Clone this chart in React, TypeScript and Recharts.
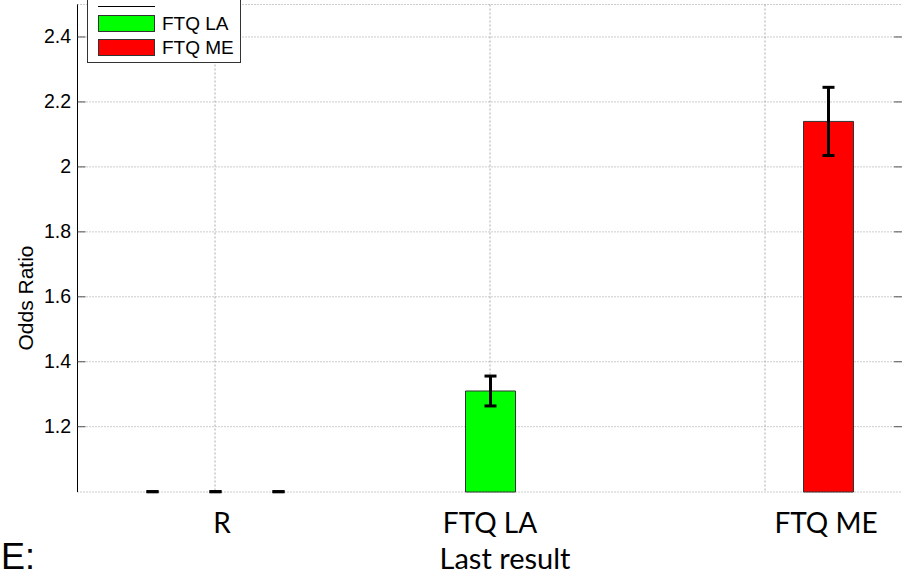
import { Bar, BarChart, CartesianGrid, Cell, ErrorBar, XAxis, YAxis } from "recharts";

const categories = ["R", "FTQ LA", "FTQ ME"];
const rValues = [1, null, null];
const rErrors = [[0, 0], null, null];
const laValues = [1, 1.31, null];
const laErrors = [[0, 0], [0.046, 0.046], null];
const meValues = [1, null, 2.14];
const meErrors = [[0, 0], null, [0.105, 0.105]];
const yTicks = [1.2, 1.4, 1.6, 1.8, 2, 2.2, 2.4];
const baseline = 1;

const series = [
  { key: "r", name: "R", color: "#ffffff", values: rValues },
  { key: "la", name: "FTQ LA", color: "#00ff00", values: laValues },
  { key: "me", name: "FTQ ME", color: "#ff0000", values: meValues },
];

const data = categories.map((name, i) => ({
  name,
  r: rValues[i],
  rErr: rErrors[i],
  la: laValues[i],
  laErr: laErrors[i],
  me: meValues[i],
  meErr: meErrors[i],
}));

// the x labels in the original are nudged off their group centres
const labelShift = [7, 0, 61];

const arial = "'Liberation Sans', Arial, sans-serif";

function YTick({ y, payload }: any) {
  return (
    <g>
      <line x1={77.5} x2={85.5} y1={y} y2={y} stroke="#555" />
      <line x1={894} x2={902} y1={y} y2={y} stroke="#555" />
      <text x={71} y={y} dy={6.5} textAnchor="end" fontSize={19.5} fontFamily={arial} fill="#000">
        {payload.value}
      </text>
    </g>
  );
}

function XTick({ x, payload, index }: any) {
  return (
    <text x={x + labelShift[index]} y={533} textAnchor="middle" fontSize={28} fontFamily="Lato, sans-serif" fill="#000">
      {payload.value}
    </text>
  );
}

// top entry is cut off by the top edge, only the bottom of its icon shows
function LegendBox() {
  return (
    <div
      style={{
        position: "absolute",
        left: 87,
        top: -18,
        width: 152,
        height: 79,
        border: "1px solid #333",
        background: "#fff",
      }}
    >
      {series.map((s, i) => (
        <div
          key={s.key}
          style={{ position: "absolute", left: 10, top: 7 + i * 24.5, height: 17, display: "flex", alignItems: "center" }}
        >
          {i === 0 ? (
            <div style={{ width: 57, height: 16, borderBottom: "1px solid #000" }} />
          ) : (
            <>
              <div style={{ width: 55, height: 15, background: s.color, border: "1px solid #333" }} />
              <span style={{ marginLeft: 7, fontSize: 19, fontFamily: arial, color: "#000", lineHeight: "17px" }}>
                {s.name}
              </span>
            </>
          )}
        </div>
      ))}
    </div>
  );
}

export default function App() {
  return (
    <div style={{ position: "absolute", left: 0, top: 0, width: 902, height: 575, overflow: "hidden", background: "#fff" }}>
      <BarChart
        width={903}
        height={575}
        data={data}
        margin={{ top: 4.5, right: 0.5, left: 0, bottom: 0 }}
        barSize={50}
        barGap={13}
      >
        <CartesianGrid horizontal={false} stroke="#aaa" strokeDasharray="2 2" />
        <CartesianGrid vertical={false} stroke="#999" strokeDasharray="1 2" />
        <XAxis
          dataKey="name"
          axisLine={false}
          tickLine={false}
          height={83}
          interval={0}
          tick={<XTick />}
          label={{
            content: () => (
              <text x={505} y={569} textAnchor="middle" fontSize={29} fontFamily="Lato, sans-serif" fill="#000">
                Last result
              </text>
            ),
          }}
        />
        <YAxis
          width={77.5}
          domain={[0.999, 2.5]}
          ticks={yTicks}
          axisLine={{ stroke: "#000" }}
          tickLine={false}
          tick={<YTick />}
          label={{
            content: () => (
              <text
                x={33}
                y={298}
                transform="rotate(-90 33 298)"
                textAnchor="middle"
                fontSize={21}
                fontFamily={arial}
                fill="#000"
              >
                Odds Ratio
              </text>
            ),
          }}
        />
        {series.map((s) => (
          <Bar key={s.key} dataKey={s.key} name={s.name} fill={s.color} stroke="#333" isAnimationActive={false}>
            {s.values.map((v, i) => (
              <Cell
                key={i}
                fill={v != null && v > baseline ? s.color : "none"}
                stroke={v != null && v > baseline ? "#333" : "none"}
              />
            ))}
            <ErrorBar dataKey={`${s.key}Err`} width={6} strokeWidth={3} stroke="#000" isAnimationActive={false} />
          </Bar>
        ))}
      </BarChart>
      <LegendBox />
      <div
        style={{
          position: "absolute",
          left: 1,
          top: 537,
          fontSize: 36,
          lineHeight: "40px",
          fontFamily: arial,
          color: "#000",
        }}
      >
        E:
      </div>
    </div>
  );
}
